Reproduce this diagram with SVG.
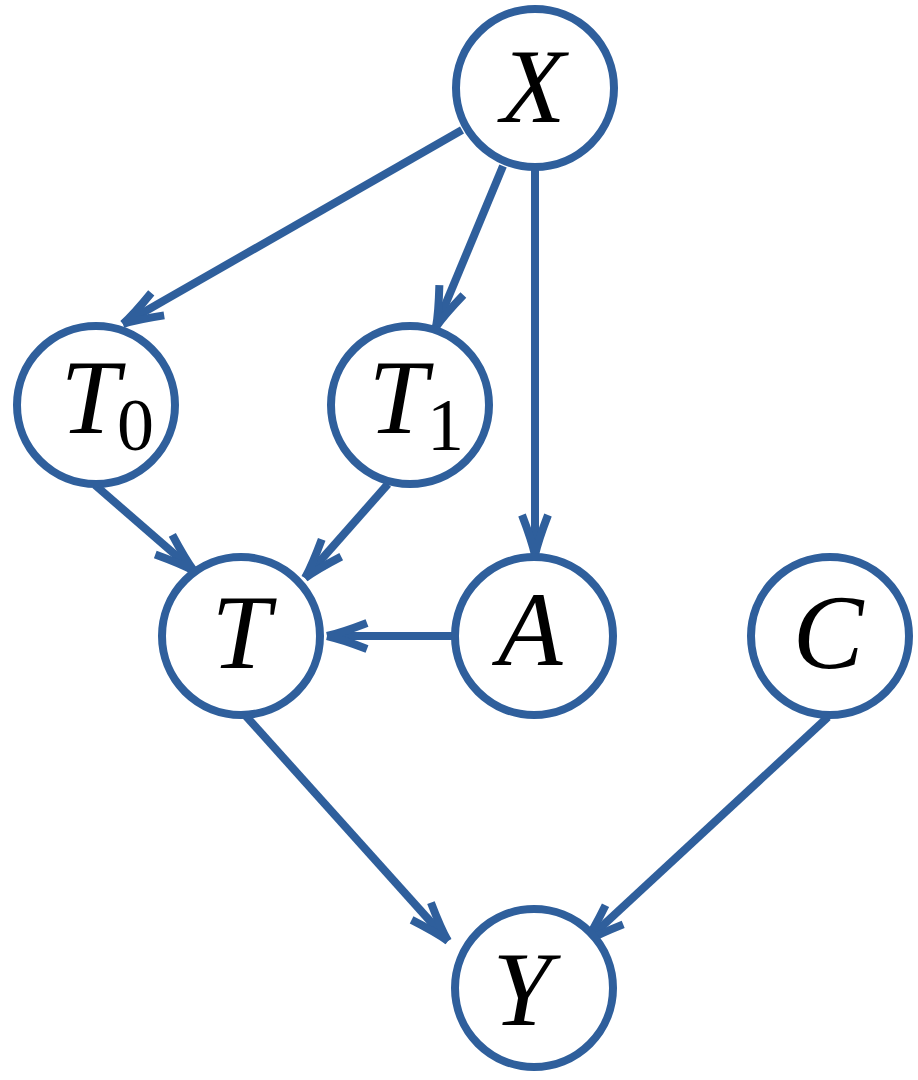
<svg xmlns="http://www.w3.org/2000/svg" width="918" height="1080" viewBox="0 0 918 1080">
<style>
.node circle{fill:#fff;stroke:#2f5f9c;stroke-width:8}
.lbl{font-family:"Liberation Serif",serif;font-style:italic;font-size:106px;fill:#000}
.sub{font-family:"Liberation Serif",serif;font-style:normal;font-size:74px;fill:#000}
.edges line{stroke:#2f5f9c;stroke-width:8;fill:none}
</style>
<defs>
<marker id="arr" markerUnits="userSpaceOnUse" viewBox="-50 -25 60 50" markerWidth="60" markerHeight="50" refX="0" refY="0" orient="auto" overflow="visible">
<path d="M -40,-13 Q -14,-3 0,0 M -40,13 Q -14,3 0,0" fill="none" stroke="#2f5f9c" stroke-width="8"/>
</marker>
</defs>
<rect width="918" height="1080" fill="#fff"/>
<g class="edges">
<line x1="462" y1="130" x2="123" y2="324" marker-end="url(#arr)"/>
<line x1="503" y1="166" x2="436" y2="327" marker-end="url(#arr)"/>
<line x1="535" y1="168" x2="535" y2="555" marker-end="url(#arr)"/>
<line x1="95" y1="485" x2="194" y2="571" marker-end="url(#arr)"/>
<line x1="388" y1="484" x2="305" y2="578" marker-end="url(#arr)"/>
<line x1="453" y1="636" x2="327" y2="636" marker-end="url(#arr)"/>
<line x1="245" y1="715" x2="448" y2="941" marker-end="url(#arr)"/>
<line x1="828" y1="717" x2="585" y2="942" marker-end="url(#arr)"/>
</g>
<g id="X" class="node"><circle cx="535" cy="88" r="79"/><text class="lbl" x="533" y="122" text-anchor="middle">X</text></g>
<g id="T0" class="node"><circle cx="96" cy="405" r="79"/><text class="lbl" x="90" y="433" text-anchor="middle">T</text><text class="sub" x="117" y="450">0</text></g>
<g id="T1" class="node"><circle cx="410" cy="405" r="79"/><text class="lbl" x="398" y="433" text-anchor="middle">T</text><text class="sub" x="427" y="450">1</text></g>
<g id="T" class="node"><circle cx="241" cy="636" r="79"/><text class="lbl" x="241" y="668" text-anchor="middle">T</text></g>
<g id="A" class="node"><circle cx="534" cy="636" r="79"/><text class="lbl" x="530" y="665" text-anchor="middle">A</text></g>
<g id="C" class="node"><circle cx="830" cy="636" r="79"/><text class="lbl" x="828" y="668" text-anchor="middle">C</text></g>
<g id="Y" class="node"><circle cx="534" cy="988" r="79"/><text class="lbl" x="522" y="1025" text-anchor="middle">Y</text></g>
</svg>
